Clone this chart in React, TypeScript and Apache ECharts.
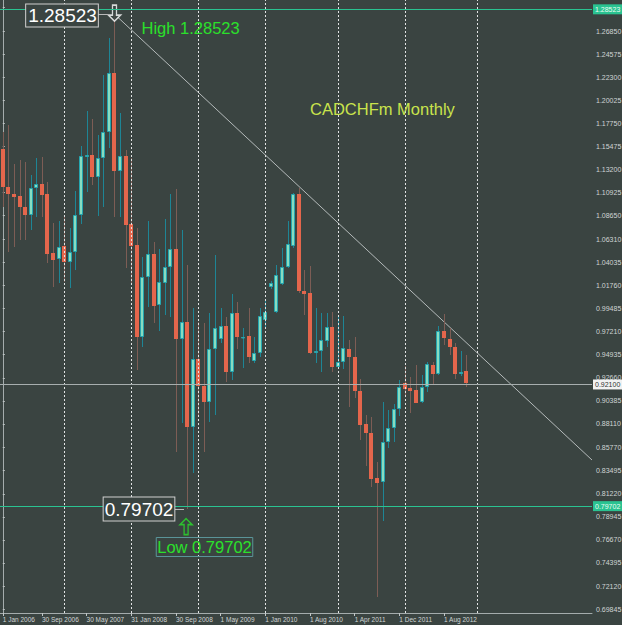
import React, { useEffect, useRef } from "react";
import * as echarts from "echarts";

// ---- Data (monthly CADCHFm candles) ----
const opens = [
  1.1522, 1.1148, 1.1079, 1.1059, 1.095, 1.0871, 1.1133, 1.1177, 1.1079, 1.0497,
  1.0438, 1.0566, 1.0408, 1.0507, 1.0871, 1.1444, 1.1463, 1.1246, 1.1434, 1.169,
  1.2272, 1.1305, 1.1453, 1.0783, 1.0576, 0.9668, 1.026, 1.0487, 0.9984, 1.0201,
  1.0359, 1.0536, 0.9648, 0.9816, 0.8781, 0.9451, 0.9185, 0.9027, 0.955, 0.9648,
  0.9777, 0.9323, 0.9905, 0.9663, 0.9678, 0.9432, 0.951, 0.9836, 1.0166, 0.9915,
  1.0191, 1.0359, 1.0566, 1.1079, 1.0122, 1.0102, 0.9515, 0.953, 0.9629, 0.9767,
  0.9372, 0.9422, 0.955, 0.9471, 0.9136, 0.881, 0.8721, 0.8278, 0.8238, 0.8633,
  0.8771, 0.8958, 0.9214, 0.9165, 0.9145, 0.9027, 0.9175, 0.9392, 0.9303, 0.9727,
  0.9648, 0.957, 0.9303, 0.9333,
];
const closes = [
  1.1148, 1.1079, 1.1049, 1.095, 1.0871, 1.1138, 1.1177, 1.1069, 1.0487, 1.0428,
  1.0556, 1.0408, 1.0507, 1.0871, 1.1453, 1.1463, 1.1246, 1.1434, 1.169, 1.2272,
  1.1305, 1.1453, 1.0773, 1.0566, 0.9668, 1.026, 1.0487, 0.9974, 1.0211, 1.0359,
  1.0536, 0.9648, 0.9816, 0.8781, 0.9451, 0.9185, 0.9027, 0.955, 0.9757, 0.9777,
  0.9323, 0.9905, 0.9668, 0.9673, 0.9471, 0.951, 0.9875, 0.9915, 1.0196, 1.028,
  1.0359, 1.0585, 1.1079, 1.0122, 1.0092, 0.951, 0.9535, 0.9639, 0.9767, 0.9372,
  0.9422, 0.956, 0.9471, 0.9136, 0.88, 0.8721, 0.8268, 0.8228, 0.8633, 0.8771,
  0.8958, 0.9175, 0.9155, 0.9136, 0.9017, 0.9175, 0.9402, 0.9303, 0.9727, 0.9658,
  0.957, 0.9303, 0.9323, 0.921,
];
const lows = [
  1.095, 1.0507, 1.0556, 1.0625, 1.0625, 1.0724, 1.0852, 1.0852, 1.0398, 1.0161,
  1.0201, 1.0211, 1.0152, 1.0329, 1.0783, 1.1098, 1.1167, 1.0862, 1.095, 1.1532,
  1.0852, 1.0852, 1.0349, 1.0201, 0.9343, 0.957, 0.9964, 0.9806, 0.9727, 0.9885,
  0.9865, 0.8534, 0.882, 0.79702, 0.8327, 0.8879, 0.8534, 0.883, 0.8899, 0.9609,
  0.9224, 0.9244, 0.955, 0.9362, 0.9412, 0.9412, 0.9471, 0.9767, 1.0142, 0.9905,
  1.0181, 1.0349, 1.0546, 1.0102, 0.9885, 0.95, 0.9412, 0.9323, 0.957, 0.9323,
  0.9362, 0.9353, 0.8978, 0.9066, 0.8652, 0.8396, 0.8189, 0.7104, 0.7853, 0.8573,
  0.8633, 0.8889, 0.9076, 0.8919, 0.9017, 0.9017, 0.9126, 0.9205, 0.9293, 0.9589,
  0.9491, 0.9254, 0.9284, 0.9175,
];
const highs = [
  1.169, 1.1759, 1.1374, 1.1414, 1.1394, 1.1266, 1.1434, 1.1444, 1.1197, 1.0793,
  1.0812, 1.0852, 1.0743, 1.1108, 1.1552, 1.1897, 1.1818, 1.1661, 1.2252, 1.2617,
  1.28523, 1.1878, 1.1513, 1.1434, 1.0743, 1.0457, 1.0812, 1.0605, 1.0536, 1.0832,
  1.1079, 1.1128, 1.0724, 1.0378, 0.9954, 0.9816, 0.9806, 0.9905, 1.0477, 0.9954,
  0.9865, 1.0092, 1.0014, 0.9757, 0.9954, 0.9668, 0.9954, 1.0043, 1.0216, 1.0378,
  1.0546, 1.0812, 1.1089, 1.1138, 1.0329, 1.0368, 0.9954, 0.9905, 0.9905, 0.9915,
  0.9875, 0.9875, 0.9639, 0.9668, 0.9254, 0.8899, 0.8879, 0.8435, 0.9027, 0.8948,
  0.9007, 0.9244, 0.9382, 0.9274, 0.9392, 0.9293, 0.9422, 0.9422, 0.9777, 0.9895,
  0.9757, 0.9609, 0.953, 0.9491,
];

// bar slots incl. empty "chart shift" space on the right
const slotCount = 106;
const categories = Array.from({ length: slotCount }, (_, i) => `bar${i}`);

const tickIndex = [0, 7, 15, 23, 31, 39, 47, 55, 63, 71, 79];
const tickText = [
  "1 Jan 2006", "30 Sep 2006", "30 May 2007", "31 Jan 2008", "30 Sep 2008",
  "1 May 2009", "1 Jan 2010", "1 Aug 2010", "1 Apr 2011", "1 Dec 2011", "1 Aug 2012",
];
const separatorIndex = [11, 23, 35, 47, 60, 72, 85];

const priceTicks = [
  1.2919, 1.2685, 1.24575, 1.223, 1.20025, 1.1775, 1.15475, 1.132, 1.10925,
  1.0865, 1.0631, 1.04035, 1.0176, 0.99485, 0.9721, 0.94935, 0.9266, 0.90385,
  0.8811, 0.8577, 0.83495, 0.8122, 0.78945, 0.7667, 0.74395, 0.7212, 0.69845,
];

const highIndex = 20;
const highPrice = 1.28523;
const lowIndex = 33;
const lowPrice = 0.79702;
const lastPrice = 0.921;
const trendLine = [
  [20, 1.28523],
  [105.5, 0.8455],
];

const BG = "#3a4441";
const FONT = "Liberation Sans";

function renderCandle(params: any, api: any) {
  const i = api.value(0);
  const o = api.value(1);
  const c = api.value(2);
  const l = api.value(3);
  const h = api.value(4);
  const pO = api.coord([i, o]);
  const pC = api.coord([i, c]);
  const pL = api.coord([i, l]);
  const pH = api.coord([i, h]);
  const bull = c >= o;
  const r = Math.round(pO[0]);
  const top = Math.round(Math.min(pO[1], pC[1]));
  const bot = Math.round(Math.max(pO[1], pC[1]));
  const bh = Math.max(bot - top, 1);
  const wick = {
    type: "line",
    shape: { x1: r + 0.5, y1: Math.round(pH[1]), x2: r + 0.5, y2: Math.round(pL[1]) },
    style: { stroke: bull ? "#1e8595" : "#7d5d55", lineWidth: 1 },
  };
  const body = bull
    ? {
        type: "rect",
        shape: { x: r - 1.5, y: top + 0.5, width: 3, height: Math.max(bh - 1, 0.5) },
        style: { fill: "#88dcc0", stroke: "#24a6b0", lineWidth: 1 },
      }
    : {
        type: "rect",
        shape: { x: r - 2, y: top, width: 4, height: bh },
        style: { fill: "#e4664c" },
      };
  return { type: "group", children: [wick, body] };
}

export default function App() {
  const ref = useRef<HTMLDivElement>(null);

  useEffect(() => {
    if (!ref.current) return;
    const chart = echarts.init(ref.current, undefined, { renderer: "svg" });

    const priceLabel = (txt: string, bg: string, fg: string) => ({
      show: true,
      position: "end",
      formatter: txt,
      backgroundColor: bg,
      color: fg,
      fontSize: 7,
      fontFamily: FONT,
      padding: [2, 3, 1, 2],
      distance: 1,
    });

    const option: any = {
      animation: false,
      backgroundColor: BG,
      textStyle: { fontFamily: FONT },
      grid: {
        left: 0,
        right: 30,
        top: 0,
        bottom: 12,
        containLabel: false,
        outerBoundsMode: "none",
      },
      xAxis: [
        {
          type: "category",
          data: categories,
          boundaryGap: true,
          axisLine: { show: true, lineStyle: { color: "#a4acac", width: 1 } },
          axisTick: {
            show: true,
            alignWithLabel: true,
            interval: (i: number) => tickIndex.includes(i),
            length: 3,
            lineStyle: { color: "#c0c6c6" },
          },
          axisLabel: {
            interval: (i: number) => tickIndex.includes(i),
            formatter: (_v: string, i: number) => {
              const k = tickIndex.indexOf(i);
              return k >= 0 ? tickText[k] : "";
            },
            align: "left",
            color: "#d0d4d4",
            fontSize: 6.5,
            fontFamily: FONT,
            margin: 3,
          },
          splitLine: { show: false },
        },
        {
          type: "value",
          min: -0.5,
          max: slotCount - 0.5,
          show: false,
        },
      ],
      yAxis: {
        type: "value",
        position: "right",
        min: 0.6946,
        max: 1.2992,
        axisLine: { show: true, lineStyle: { color: "#a4acac" } },
        axisTick: {
          show: true,
          length: 2,
          customValues: priceTicks,
          lineStyle: { color: "#c0c6c6" },
        },
        axisLabel: {
          customValues: priceTicks,
          formatter: (v: number) => v.toFixed(5),
          color: "#d0d4d4",
          fontSize: 7,
          fontFamily: FONT,
          margin: 4,
        },
        splitLine: { show: false },
      },
      series: [
        {
          type: "line",
          name: "trend",
          xAxisIndex: 1,
          yAxisIndex: 0,
          data: trendLine,
          symbol: "none",
          clip: false,
          z: 1,
          lineStyle: { color: "#b4baba", width: 1 },
          markLine: {
            silent: true,
            symbol: ["none", "none"],
            label: { show: false },
            data: [
              ...separatorIndex.map((v) => ({
                xAxis: v,
                lineStyle: { color: "#e2e4e4", type: [2, 2], width: 1 },
                label: { show: false },
              })),
              {
                yAxis: highPrice,
                lineStyle: { color: "#2ac391", type: "solid", width: 1 },
                label: priceLabel(highPrice.toFixed(5), "#2ac391", "#eafff4"),
              },
              {
                yAxis: lowPrice,
                lineStyle: { color: "#2ac391", type: "solid", width: 1 },
                label: priceLabel(lowPrice.toFixed(5), "#2ac391", "#eafff4"),
              },
              {
                yAxis: lastPrice,
                lineStyle: { color: "#a7aeae", type: "solid", width: 1 },
                label: priceLabel(lastPrice.toFixed(5), "#f2f2f2", "#333333"),
              },
            ],
          },
        },
        {
          type: "custom",
          name: "CADCHFm",
          xAxisIndex: 0,
          yAxisIndex: 0,
          z: 2,
          data: opens.map((o, i) => [i, o, closes[i], lows[i], highs[i]]),
          encode: { x: 0, y: [1, 2, 3, 4] },
          renderItem: renderCandle,
        },
        {
          type: "scatter",
          xAxisIndex: 1,
          yAxisIndex: 0,
          z: 4,
          silent: true,
          data: [
            {
              value: [highIndex, highPrice],
              symbol: "path://M4,0 L8,0 L8,10 L12,10 L6,16 L0,10 L4,10 Z",
              symbolSize: [12, 16],
              symbolOffset: [0, -1],
              itemStyle: { color: BG, borderColor: "#ffffff", borderWidth: 1.5 },
            },
            {
              value: [lowIndex, lowPrice],
              symbol: "path://M6,0 L12,6 L8,6 L8,16 L4,16 L4,6 L0,6 Z",
              symbolSize: [12, 16],
              symbolOffset: [-1, 17.5],
              itemStyle: { color: BG, borderColor: "#2be02b", borderWidth: 1.5 },
            },
          ],
        },
      ],
      graphic: [
        {
          type: "line",
          shape: { x1: 97, y1: 14.5, x2: 108, y2: 14.5 },
          style: { stroke: "#b8b8b8", lineWidth: 1 },
          z: 10,
        },
        {
          type: "text",
          x: 62,
          y: 15.5,
          z: 10,
          style: {
            text: highPrice.toFixed(5),
            fill: "#ffffff",
            fontSize: 19,
            fontFamily: FONT,
            align: "center",
            verticalAlign: "middle",
            textAlign: "center",
            textVerticalAlign: "middle",
            backgroundColor: BG,
            borderColor: "#d0d0d0",
            borderWidth: 1,
            padding: [2, 1, 1, 2],
          },
        },
        {
          type: "text",
          x: 141.5,
          y: 27.5,
          z: 10,
          style: {
            text: "High " + highPrice.toFixed(5),
            fill: "#2be02b",
            fontSize: 16.5,
            fontFamily: FONT,
            align: "left",
            verticalAlign: "middle",
            textAlign: "left",
            textVerticalAlign: "middle",
          },
        },
        {
          type: "text",
          x: 310,
          y: 109,
          z: 10,
          style: {
            text: "CADCHFm Monthly",
            fill: "#c9e34c",
            fontSize: 16.5,
            fontFamily: FONT,
            align: "left",
            verticalAlign: "middle",
            textAlign: "left",
            textVerticalAlign: "middle",
          },
        },
        {
          type: "line",
          shape: { x1: 173, y1: 509.5, x2: 184, y2: 509.5 },
          style: { stroke: "#b8b8b8", lineWidth: 1 },
          z: 10,
        },
        {
          type: "text",
          x: 139,
          y: 509,
          z: 10,
          style: {
            text: lowPrice.toFixed(5),
            fill: "#ffffff",
            fontSize: 19,
            fontFamily: FONT,
            align: "center",
            verticalAlign: "middle",
            textAlign: "center",
            textVerticalAlign: "middle",
            backgroundColor: BG,
            borderColor: "#d0d0d0",
            borderWidth: 1,
            padding: [2, 1, 2, 1],
          },
        },
        {
          type: "text",
          x: 204.5,
          y: 547,
          z: 10,
          style: {
            text: "Low " + lowPrice.toFixed(5),
            fill: "#2be02b",
            fontSize: 16.5,
            fontFamily: FONT,
            align: "center",
            verticalAlign: "middle",
            textAlign: "center",
            textVerticalAlign: "middle",
            borderColor: "#5a9498",
            borderWidth: 1,
            padding: [1, 1, 1, 1],
          },
        },
      ],
    };

    chart.setOption(option);
    return () => chart.dispose();
  }, []);

  return (
    <div
      ref={ref}
      style={{ position: "fixed", left: 0, top: 0, width: 622, height: 625 }}
    />
  );
}
